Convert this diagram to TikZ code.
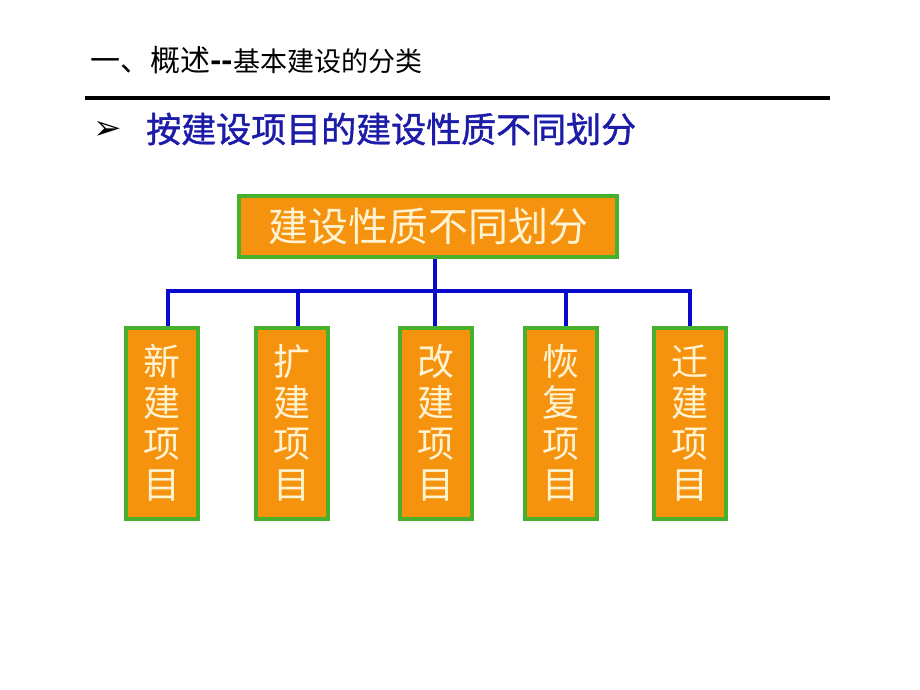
\documentclass[tikz,border=0pt]{standalone}
\usepackage{fontspec}
\newfontfamily\cjk{Noto Sans CJK SC}
\newfontfamily\cjkhead[FakeBold=1.2]{Noto Sans CJK SC}
\newfontfamily\sym{DejaVu Sans}
\definecolor{boxfill}{HTML}{F5920E}
\definecolor{boxline}{HTML}{48B12C}
\definecolor{boxtext}{HTML}{FFF3D2}
\definecolor{linkblue}{HTML}{0A0ACC}
\definecolor{headblue}{HTML}{1C1CA8}
\begin{document}
\begin{tikzpicture}[x=1pt,y=-1pt,
  orgbox/.style={draw=boxline, line width=4pt, fill=boxfill, text=boxtext, inner sep=0pt},
  link/.style={draw=linkblue, line width=4.5pt},
  itembox/.style={orgbox, minimum width=72pt, minimum height=191pt, align=center,
     font=\cjk\fontsize{37}{41}\selectfont}]
\useasboundingbox (0,0) rectangle (920,690);
% title
\node[anchor=west, inner sep=0pt] (title) at (90,60)
  {\cjk\fontsize{30}{30}\selectfont 一、概述{\bfseries --}\fontsize{27}{30}\selectfont 基本建设的分类};
\coordinate (ruleL) at (85,98);
\coordinate (ruleR) at (830,98);
\draw[line width=4pt] (ruleL) -- (ruleR);
% heading
\node[inner sep=0pt] (bullet) at (108,130) {\sym\fontsize{34}{36}\selectfont ➢};
\node[anchor=west, inner sep=0pt, text=headblue] (heading) at (146,129)
  {\cjkhead\fontsize{35}{36}\selectfont 按建设项目的建设性质不同划分};
% top box
\node[orgbox, minimum width=378pt, minimum height=61pt, font=\cjk\fontsize{40}{44}\selectfont]
  (top) at (428,226.5) {建设性质不同划分};
% bottom boxes
\node[itembox] (b1) at (161.5,423) {新\\建\\项\\目};
\node[itembox] (b2) at (291.5,423) {扩\\建\\项\\目};
\node[itembox] (b3) at (436,423) {改\\建\\项\\目};
\node[itembox] (b4) at (560.5,423) {恢\\复\\项\\目};
\node[itembox] (b5) at (689.5,423) {迁\\建\\项\\目};
% connectors
\coordinate (hub) at (435,291);
\draw[link] ([xshift=7pt]top.south) -- (hub);
\draw[link] ([xshift=6.5pt]b1.north) |- (hub);
\draw[link] ([xshift=6.5pt]b2.north) -- ([xshift=6.5pt]b2.north |- hub);
\draw[link] ([xshift=-1pt]b3.north) -- (hub);
\draw[link] ([xshift=5.5pt]b4.north) -- ([xshift=5.5pt]b4.north |- hub);
\draw[link] (hub) -| ([xshift=0.5pt]b5.north);
\end{tikzpicture}
\end{document}
